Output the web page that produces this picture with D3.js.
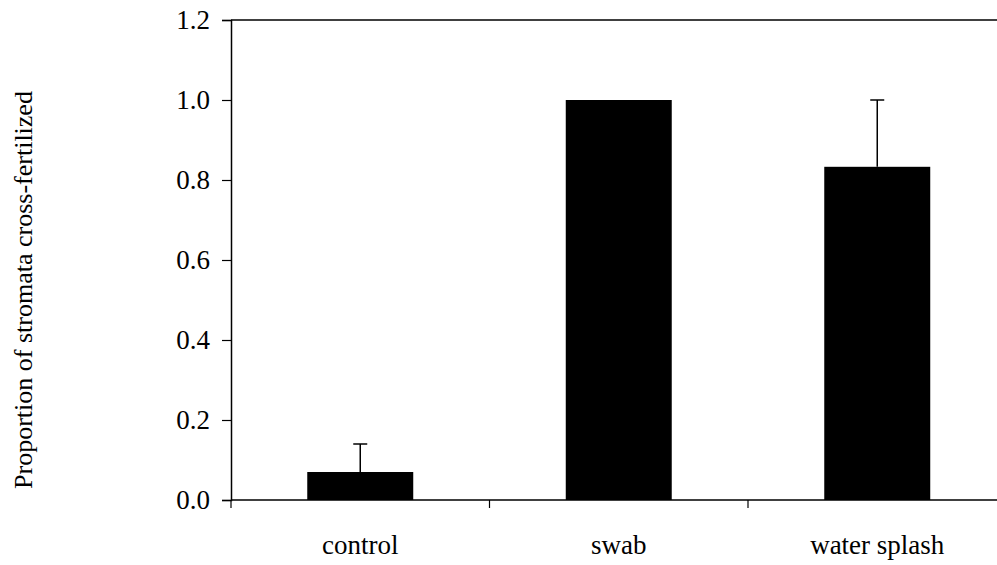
<!DOCTYPE html>
<html>
<head>
<meta charset="utf-8">
<script src="https://cdn.jsdelivr.net/npm/d3@7"></script>
<style>
  body { margin: 0; background: #fff; }
  svg, svg text { font-family: "Times New Roman", "Liberation Serif", Times, "DejaVu Serif", serif !important; }
</style>
</head>
<body>
<div id="chart"></div>
<script>
// data
const categories = ["control", "swab", "water splash"];
const proportions = [0.07, 1.0, 0.833];
const errors = [0.07, 0, 0.167];
const yTicks = [0, 0.2, 0.4, 0.6, 0.8, 1.0, 1.2];
const yLabel = "Proportion of stromata cross-fertilized";

const width = 997,
  height = 565,
  margin = { top: 20, left: 231, bottom: 65 },
  plotRight = 1006.5; // frame runs off the right edge

const data = categories.map((c, i) => ({ cat: c, value: proportions[i], err: errors[i] }));

const svg = d3.select("#chart")
  .append("svg")
  .attr("width", width)
  .attr("height", height);

const x = d3.scaleBand()
  .domain(categories)
  .range([margin.left, plotRight])
  .paddingInner(0.59)
  .paddingOuter(0.295);

const y = d3.scaleLinear()
  .domain([0, 1.2])
  .range([height - margin.bottom, margin.top]);

// top border of the plot frame
svg.append("line")
  .attr("x1", margin.left).attr("x2", plotRight)
  .attr("y1", y(1.2)).attr("y2", y(1.2))
  .attr("stroke", "#000").attr("stroke-width", 1.5);

// bars
svg.selectAll(".bar")
  .data(data)
  .join("rect")
  .attr("class", "bar")
  .attr("x", d => x(d.cat))
  .attr("width", x.bandwidth())
  .attr("y", d => y(d.value))
  .attr("height", d => y(0) - y(d.value))
  .attr("fill", "#000");

// error bars (upper only)
const errData = data.filter(d => d.err > 0);
svg.selectAll(".err")
  .data(errData)
  .join("line")
  .attr("class", "err")
  .attr("x1", d => x(d.cat) + x.bandwidth() / 2)
  .attr("x2", d => x(d.cat) + x.bandwidth() / 2)
  .attr("y1", d => y(d.value))
  .attr("y2", d => y(d.value + d.err))
  .attr("stroke", "#000").attr("stroke-width", 1.5);

svg.selectAll(".cap")
  .data(errData)
  .join("line")
  .attr("class", "cap")
  .attr("x1", d => x(d.cat) + x.bandwidth() / 2 - 7)
  .attr("x2", d => x(d.cat) + x.bandwidth() / 2 + 7)
  .attr("y1", d => y(d.value + d.err))
  .attr("y2", d => y(d.value + d.err))
  .attr("stroke", "#000").attr("stroke-width", 1.5);

// y axis
const yAxis = svg.append("g")
  .attr("transform", `translate(${margin.left},0)`)
  .call(d3.axisLeft(y).tickValues(yTicks).tickFormat(d3.format(".1f")).tickSize(9).tickPadding(12));
yAxis.attr("font-family", null);
yAxis.select(".domain").attr("stroke-width", 1.5);
yAxis.selectAll(".tick line").attr("stroke-width", 1.2);
yAxis.selectAll("text").attr("font-size", 27).attr("fill", "#000");

// x axis: line with ticks at the band boundaries
const xAxisG = svg.append("g");
xAxisG.append("line")
  .attr("x1", margin.left).attr("x2", plotRight)
  .attr("y1", y(0)).attr("y2", y(0))
  .attr("stroke", "#000").attr("stroke-width", 1.5);
const boundaries = d3.range(categories.length + 1).map(i => margin.left + i * x.step());
xAxisG.selectAll(".xtick")
  .data(boundaries)
  .join("line")
  .attr("class", "xtick")
  .attr("x1", d => d).attr("x2", d => d)
  .attr("y1", y(0)).attr("y2", y(0) + 8)
  .attr("stroke", "#000").attr("stroke-width", 1.2);
xAxisG.selectAll(".xlabel")
  .data(categories)
  .join("text")
  .attr("class", "xlabel")
  .attr("x", d => x(d) + x.bandwidth() / 2)
  .attr("y", 554)
  .attr("text-anchor", "middle")
  .attr("font-size", 27)
  .text(d => d);

// y axis title
svg.append("text")
  .attr("transform", "translate(32,290) rotate(-90)")
  .attr("text-anchor", "middle")
  .attr("font-size", 26)
  .text(yLabel);
</script>
</body>
</html>
